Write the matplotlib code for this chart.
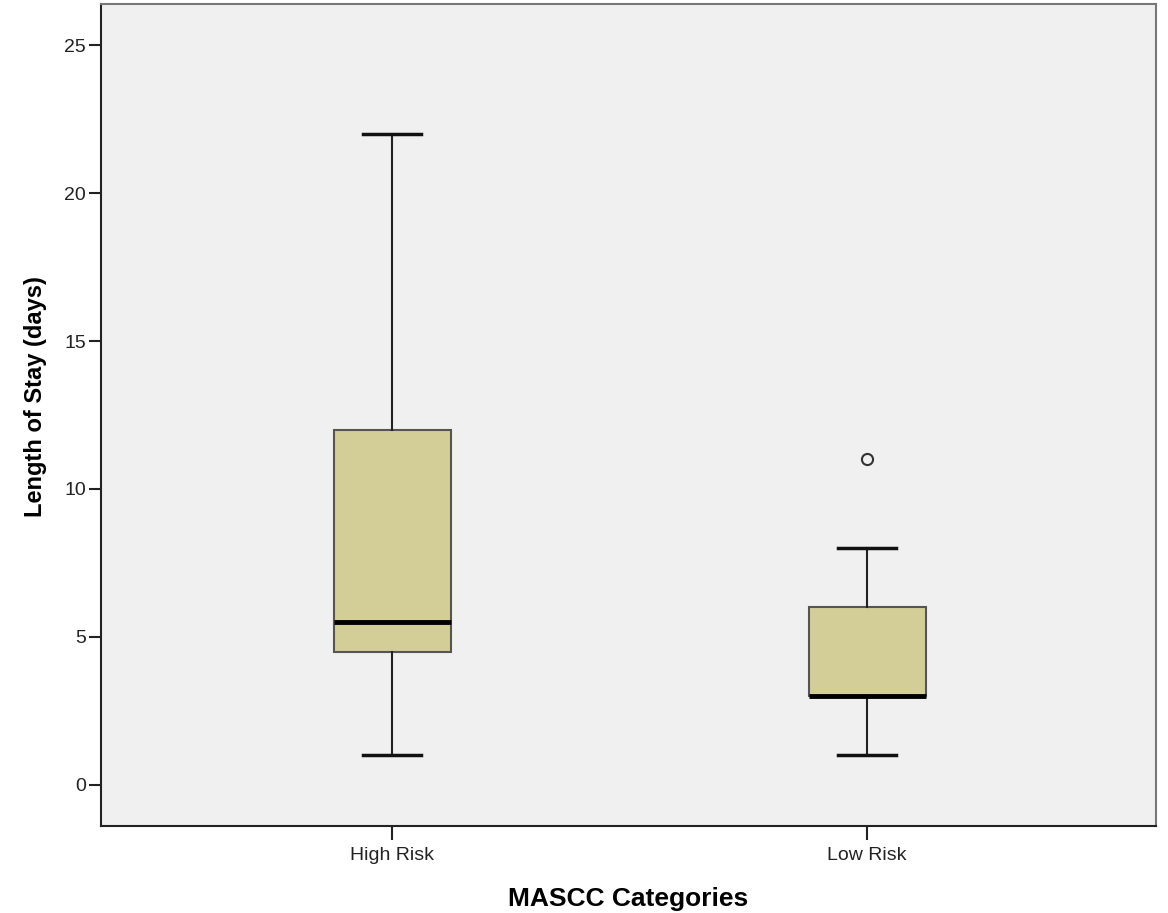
import matplotlib
matplotlib.use("Agg")
from matplotlib import pyplot as plt

categories = ['High Risk', 'Low Risk']
whislo = [1, 1]
q1 = [4.5, 3]
med = [5.5, 3]
q3 = [12, 6]
whishi = [22, 8]
outliers = [[], [11]]

plt.rcParams['font.family'] = ['Liberation Sans', 'DejaVu Sans']

stats = []
for i, name in enumerate(categories):
    stats.append(dict(label=name, whislo=whislo[i], q1=q1[i], med=med[i],
                      q3=q3[i], whishi=whishi[i], fliers=outliers[i]))

fig = plt.figure(figsize=(11.68, 9.13), dpi=100)
ax = fig.add_axes([0.0865, 0.0953, 0.9032, 0.9003])
ax.set_facecolor('#F0F0F0')

ax.bxp(stats, positions=[1, 2], widths=0.246, patch_artist=True,
       boxprops=dict(facecolor='#D3CE97', edgecolor='#555555', linewidth=1.5),
       medianprops=dict(color='black', linewidth=3.5),
       whiskerprops=dict(color='#222222', linewidth=1.5),
       capprops=dict(color='#111111', linewidth=2.5),
       capwidths=0.122,
       flierprops=dict(marker='o', markerfacecolor='none', markeredgecolor='#333333',
                       markersize=8, markeredgewidth=1.5))

ax.set_xlim(0.387, 2.608)
ax.set_ylim(-1.39, 26.39)
ax.set_yticks([0, 5, 10, 15, 20, 25])
ax.tick_params(axis='y', length=9, width=1.5, labelsize=14, pad=2, colors='#222222')
ax.tick_params(axis='x', length=10, width=1.5, labelsize=14, pad=5, colors='#222222')

for s in ['left', 'bottom']:
    ax.spines[s].set_color('#222222')
    ax.spines[s].set_linewidth(1.5)
for s in ['top', 'right']:
    ax.spines[s].set_color('#777777')
    ax.spines[s].set_linewidth(1.5)

ax.set_xlabel('MASCC Categories', fontsize=19, fontweight='bold', labelpad=17)
ax.set_ylabel('Length of Stay (days)', fontsize=17, fontweight='bold')
ax.yaxis.set_label_coords(-0.051, 0.522)

fig.savefig('out.png', dpi=100)
